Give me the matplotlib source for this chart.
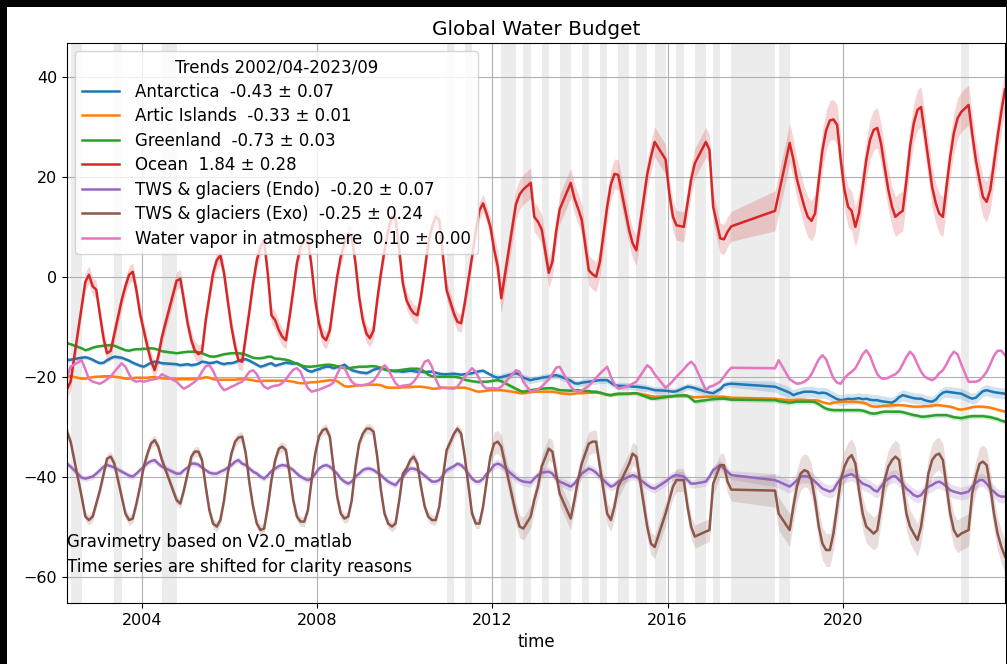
import numpy as np
import pandas as pd
import matplotlib
matplotlib.use("Agg")
import matplotlib.pyplot as plt
import matplotlib.dates as mdates
from matplotlib.patches import Rectangle
from matplotlib.ticker import MultipleLocator

# ---------------------------------------------------------------------------
# Monthly time axis (GRACE / GRACE-FO), months without a gravity solution
# ---------------------------------------------------------------------------
first_month = "2002-04"
last_month = "2023-09"
missing_months = [
    "2002-06", "2002-07", "2003-06", "2004-07", "2004-08", "2004-09",
    "2011-01", "2011-06", "2012-04", "2012-05", "2012-06", "2012-10",
    "2013-03", "2013-08", "2013-09", "2014-02", "2014-07", "2014-12",
    "2015-01", "2015-05", "2015-06", "2015-10", "2015-11", "2016-04",
    "2016-09", "2016-10", "2017-02", "2017-07", "2017-08", "2017-09",
    "2017-10", "2017-11", "2017-12", "2018-01", "2018-02", "2018-03",
    "2018-04", "2018-05", "2018-08", "2018-09", "2022-10",
]

# ---------------------------------------------------------------------------
# Mass anomalies (mm of global sea level equivalent, offsets applied)
# one row per year, only months with a solution
# ---------------------------------------------------------------------------
antarctica = [
    -16.7, -16.6, -16.2, -16.1, -16.3, -16.6, -17.0,                      # 2002
    -17.3, -17.2, -16.7, -16.3, -16.0, -16.2, -16.5, -16.8, -17.2, -17.5, -17.8,  # 2003
    -18.0, -17.6, -17.2, -17.0, -17.1, -17.3, -17.5, -17.7, -17.6,        # 2004
    -17.5, -17.7, -17.6, -17.4, -17.0, -17.1, -17.3, -17.2, -17.0, -17.3, -17.5, -17.3,  # 2005
    -17.3, -17.1, -16.8, -16.6, -16.5, -16.8, -17.2, -17.6, -18.0, -17.8, -17.5, -17.3,  # 2006
    -17.8, -17.6, -17.4, -17.2, -17.3, -17.4, -17.3, -17.7, -18.3, -18.8, -19.0, -18.7,  # 2007
    -18.5, -18.2, -18.0, -18.0, -18.3, -18.1, -17.9, -17.6, -18.2, -18.7, -18.9, -19.1,  # 2008
    -19.2, -19.3, -19.0, -18.6, -18.4, -18.3, -18.5, -18.7, -18.8, -18.9, -18.9, -19.0,  # 2009
    -18.9, -18.8, -18.9, -19.0, -19.0, -19.1, -19.0, -19.0, -19.2, -19.4, -19.5, -19.5,  # 2010
    -19.4, -19.5, -19.6, -19.5, -19.3, -19.1, -18.9, -18.8, -19.2, -19.6,  # 2011
    -20.0, -20.2, -20.1, -19.3, -19.6, -20.2, -20.7, -20.5,                # 2012
    -20.4, -20.2, -20.0, -19.8, -19.7, -19.9, -20.8, -21.3, -21.4,         # 2013
    -21.2, -21.0, -20.9, -20.8, -20.7, -20.7, -21.2, -21.7, -21.8,         # 2014
    -21.9, -22.0, -22.0, -22.3, -22.5, -22.7, -22.8,                       # 2015
    -22.9, -23.0, -22.9, -22.3, -22.0, -22.1, -22.3, -23.0, -23.2,         # 2016
    -23.3, -22.5, -21.7, -21.5, -21.4,                                     # 2017
    -22.0, -22.3, -23.2, -23.7, -23.4,                                     # 2018
    -23.2, -23.0, -23.0, -23.0, -23.1, -23.3, -23.2, -23.3, -23.7, -24.1, -24.5, -24.7,  # 2019
    -24.6, -24.4, -24.5, -24.4, -24.3, -24.5, -24.4, -24.6, -24.7, -24.7, -24.9, -25.0,  # 2020
    -25.1, -25.2, -24.8, -24.1, -23.7, -23.9, -24.1, -24.3, -24.4, -24.4, -24.7, -24.9,  # 2021
    -25.0, -24.6, -23.8, -23.2, -23.0, -23.1, -23.2, -23.3, -23.4, -24.1, -24.4,  # 2022
    -24.2, -23.5, -22.9, -22.7, -22.9, -23.1, -23.2, -23.3, -23.4,         # 2023
]

artic_islands = [
    -19.8, -19.9, -20.4, -20.4, -20.2, -20.1, -20.0,                      # 2002
    -20.0, -19.9, -19.9, -19.9, -20.0, -20.2, -20.4, -20.4, -20.3, -20.2, -20.2,  # 2003
    -20.2, -20.2, -20.1, -20.1, -20.2, -20.3, -20.5, -20.5, -20.5,        # 2004
    -20.5, -20.5, -20.4, -20.4, -20.3, -20.1, -20.2, -20.5, -20.6, -20.6, -20.6, -20.6,  # 2005
    -20.6, -20.6, -20.5, -20.5, -20.5, -20.6, -20.7, -20.9, -20.9, -20.8, -20.8, -20.8,  # 2006
    -20.8, -20.8, -20.8, -20.8, -20.9, -21.0, -21.2, -21.3, -21.3, -21.2, -21.1, -21.1,  # 2007
    -21.0, -20.9, -20.8, -20.7, -20.7, -20.9, -21.4, -21.9, -22.0, -21.9, -21.8, -21.7,  # 2008
    -21.7, -21.6, -21.6, -21.6, -21.6, -21.7, -22.0, -22.2, -22.2, -22.2, -22.2, -22.1,  # 2009
    -22.1, -22.1, -22.0, -22.0, -22.0, -22.1, -22.2, -22.4, -22.4, -22.3, -22.2, -22.2,  # 2010
    -22.2, -22.2, -22.2, -22.2, -22.6, -22.9, -23.0, -22.9, -22.8, -22.7,  # 2011
    -22.7, -22.7, -22.7, -23.1, -23.3, -23.3, -23.1, -23.0,                # 2012
    -23.0, -23.0, -23.0, -23.0, -23.1, -23.3, -23.5, -23.4, -23.3,         # 2013
    -23.3, -23.2, -23.2, -23.2, -23.2, -23.6, -23.7, -23.6, -23.5,         # 2014
    -23.4, -23.4, -23.3, -23.7, -23.9, -24.0, -23.9,                       # 2015
    -23.9, -23.9, -23.9, -23.9, -23.9, -24.0, -24.1, -24.0, -24.0,         # 2016
    -24.0, -24.0, -24.0, -24.1, -24.2,                                     # 2017
    -24.4, -24.5, -24.7, -24.7, -24.6,                                     # 2018
    -24.6, -24.6, -24.7, -24.7, -24.7, -24.8, -25.1, -25.3, -25.4, -25.2, -25.1, -25.0,  # 2019
    -25.0, -25.0, -25.0, -25.0, -25.1, -25.2, -25.4, -25.8, -26.0, -26.0, -25.9, -25.8,  # 2020
    -25.8, -25.7, -25.7, -25.7, -25.7, -25.8, -25.9, -26.0, -26.0, -26.0, -25.9, -25.9,  # 2021
    -25.8, -25.7, -25.7, -25.8, -25.9, -26.0, -26.2, -26.5, -26.6, -26.3, -26.1,  # 2022
    -26.0, -26.0, -26.0, -26.1, -26.2, -26.4, -26.6, -26.8, -27.0,         # 2023
]

greenland = [
    -13.3, -13.5, -14.3, -14.7, -14.5, -14.2, -14.0,                      # 2002
    -13.9, -13.8, -13.7, -13.7, -13.8, -14.4, -14.7, -14.8, -14.6, -14.5, -14.5,  # 2003
    -14.4, -14.4, -14.3, -14.4, -14.6, -14.9, -15.3, -15.2, -15.1,        # 2004
    -15.0, -15.0, -15.0, -15.1, -15.3, -15.6, -15.9, -16.0, -15.9, -15.7, -15.5, -15.4,  # 2005
    -15.3, -15.3, -15.3, -15.4, -15.6, -15.9, -16.2, -16.3, -16.3, -16.2, -16.0, -16.0,  # 2006
    -16.4, -16.4, -16.5, -16.6, -16.8, -17.1, -17.4, -17.7, -17.9, -18.0, -18.0, -17.9,  # 2007
    -17.8, -17.7, -17.6, -17.6, -17.7, -17.9, -18.1, -18.3, -18.3, -18.2, -18.1, -18.0,  # 2008
    -18.0, -18.0, -17.9, -17.9, -18.0, -18.2, -18.5, -18.7, -18.8, -18.8, -18.7, -18.6,  # 2009
    -18.5, -18.4, -18.4, -18.4, -18.5, -19.0, -19.6, -19.9, -20.0, -20.0, -20.0, -20.0,  # 2010
    -20.0, -20.1, -20.3, -20.6, -20.9, -21.0, -21.1, -21.0, -21.0, -20.9,  # 2011
    -20.8, -20.7, -20.9, -22.4, -22.8, -23.0, -22.7, -22.6,                # 2012
    -22.5, -22.4, -22.3, -22.3, -22.5, -22.7, -22.8, -22.7, -22.7,         # 2013
    -22.8, -22.9, -23.0, -23.0, -23.2, -23.6, -23.7, -23.5, -23.4,         # 2014
    -23.4, -23.3, -23.3, -24.1, -24.4, -24.4, -24.1,                       # 2015
    -24.0, -23.9, -23.8, -23.7, -23.8, -24.4, -25.0, -24.7, -24.6,         # 2016
    -24.5, -24.4, -24.4, -24.5, -24.6,                                     # 2017
    -24.7, -24.9, -25.2, -25.1, -25.0,                                     # 2018
    -25.0, -25.0, -25.0, -25.0, -25.1, -25.5, -26.0, -26.4, -26.6, -26.7, -26.7, -26.7,  # 2019
    -26.7, -26.7, -26.7, -26.7, -26.7, -26.8, -27.0, -27.3, -27.4, -27.3, -27.1, -27.0,  # 2020
    -27.0, -27.0, -27.0, -27.0, -27.1, -27.3, -27.5, -27.7, -27.8, -28.0, -28.0, -27.9,  # 2021
    -27.8, -27.7, -27.7, -27.7, -27.7, -27.9, -28.1, -28.2, -28.3, -28.0, -27.9,  # 2022
    -27.9, -27.9, -27.9, -28.0, -28.1, -28.3, -28.5, -28.8, -29.0,         # 2023
]

ocean = [
    -22.5, -21.0, -6.0, -1.0, 0.4, -1.9, -2.6,                            # 2002
    -7.7, -12.5, -15.3, -14.8, -11.4, -4.7, -1.9, 0.4, 1.0, -2.7, -7.4,   # 2003
    -10.7, -14.0, -16.7, -18.7, -16.0, -12.0, -0.8, -0.4, -4.7,           # 2004
    -9.3, -12.7, -14.7, -15.5, -15.0, -8.7, -4.0, 0.7, 3.3, 4.3, 0.7, -4.7,    # 2005
    -10.0, -14.0, -16.7, -17.0, -12.0, -6.7, -1.3, 3.3, 6.0, 7.3, 0.5, -7.7,   # 2006
    -8.7, -10.7, -12.0, -12.7, -8.0, -2.7, 2.7, 6.0, 7.3, 7.6, 2.0, -4.7,      # 2007
    -9.3, -12.0, -12.7, -10.7, -5.3, 0.0, 4.0, 6.7, 8.7, 8.0, 2.7, -4.0,       # 2008
    -8.7, -11.4, -12.3, -10.7, -4.7, 0.7, 5.3, 9.3, 12.0, 11.7, 5.3, -1.3,     # 2009
    -4.7, -6.3, -7.3, -7.7, -4.0, 1.3, 6.7, 10.0, 12.0, 11.4, 4.0, -2.7,       # 2010
    -7.4, -9.0, -9.3, -5.3, 4.0, 9.3, 13.3, 14.7, 12.5, 10.0,                  # 2011
    5.5, 2.0, -4.3, 14.5, 16.5, 17.5, 18.8, 12.0,                              # 2012
    11.0, 9.5, 0.8, 3.0, 9.0, 13.5, 18.8, 15.7, 13.7,                          # 2013
    11.4, 1.3, 0.5, 0.0, 3.0, 14.0, 18.5, 20.6, 20.4,                          # 2014
    9.3, 6.7, 5.3, 20.5, 24.0, 27.0, 23.5,                                     # 2015
    16.7, 12.0, 10.3, 10.0, 14.7, 19.4, 22.7, 27.0, 25.4,                      # 2016
    14.0, 7.7, 7.5, 9.0, 10.1,                                                 # 2017
    13.2, 16.5, 26.8, 23.5, 19.5,                                              # 2018
    16.7, 14.0, 12.0, 11.2, 12.7, 19.3, 25.3, 29.3, 31.3, 31.5, 30.4, 23.4,    # 2019
    17.4, 14.0, 13.2, 10.0, 12.7, 18.0, 23.4, 27.4, 29.4, 29.8, 26.7, 22.0,    # 2020
    17.4, 14.0, 12.0, 12.7, 13.2, 19.3, 26.0, 30.7, 33.4, 34.0, 28.7, 23.4,    # 2021
    18.0, 14.7, 12.7, 12.0, 18.0, 24.0, 28.7, 31.7, 33.0, 34.4, 28.7,          # 2022
    23.4, 19.3, 16.0, 15.0, 17.4, 22.7, 28.0, 33.0, 37.5,                      # 2023
]

tws_endo = [
    -37.4, -38.0, -40.2, -40.4, -40.2, -40.0, -39.4,                      # 2002
    -38.7, -38.0, -37.7, -37.9, -38.2, -39.0, -39.4, -39.8, -40.0, -39.4, -38.7,  # 2003
    -38.0, -37.3, -36.9, -36.7, -37.4, -38.0, -39.4, -39.4, -38.7,        # 2004
    -38.2, -37.4, -37.4, -37.6, -38.2, -38.7, -39.2, -39.4, -39.4, -39.0, -38.7, -38.2,  # 2005
    -37.7, -37.0, -36.7, -37.4, -37.7, -38.4, -39.0, -39.4, -40.0, -40.4, -39.7, -38.9,  # 2006
    -38.4, -37.9, -37.7, -37.8, -38.2, -38.7, -39.4, -40.0, -40.4, -40.7, -40.4, -39.4,  # 2007
    -38.4, -37.9, -37.7, -38.0, -38.7, -39.4, -40.4, -41.0, -41.4, -41.0, -40.0, -39.4,  # 2008
    -38.7, -38.4, -38.4, -38.7, -39.2, -39.7, -40.4, -41.0, -41.4, -41.7, -40.7, -40.0,  # 2009
    -39.0, -38.4, -38.4, -38.7, -39.2, -39.8, -40.4, -41.0, -41.0, -40.7, -39.7, -38.7,  # 2010
    -37.9, -37.4, -37.7, -38.4, -40.4, -41.0, -41.0, -40.4, -39.4, -38.7,  # 2011
    -37.7, -37.4, -37.7, -40.2, -40.7, -41.0, -41.2, -40.4,                # 2012
    -39.7, -39.2, -39.0, -39.4, -40.4, -41.0, -42.0, -41.4, -40.4,         # 2013
    -39.4, -38.4, -38.7, -39.2, -40.0, -41.4, -42.0, -41.7, -41.0,         # 2014
    -40.0, -39.7, -40.0, -41.7, -42.2, -42.4, -41.0,                       # 2015
    -40.4, -39.9, -39.7, -40.0, -40.7, -41.4, -41.4, -41.0, -40.0,         # 2016
    -38.7, -37.7, -38.4, -39.0, -39.7,                                     # 2017
    -40.7, -41.0, -42.0, -41.4, -40.7,                                     # 2018
    -40.0, -39.9, -40.0, -40.4, -41.0, -41.7, -42.4, -42.7, -43.0, -42.7, -41.4, -40.4,  # 2019
    -40.0, -39.7, -39.5, -40.0, -40.7, -41.4, -41.7, -42.0, -42.7, -43.0, -42.0, -41.0,  # 2020
    -40.4, -40.0, -39.9, -40.7, -41.4, -42.4, -43.0, -43.7, -44.0, -43.7, -42.7, -42.0,  # 2021
    -41.7, -41.2, -41.0, -41.4, -42.0, -42.7, -43.0, -43.2, -43.4, -43.0, -42.0,  # 2022
    -41.2, -40.7, -40.7, -41.4, -42.4, -43.0, -43.7, -44.0, -44.0,         # 2023
]

tws_exo = [
    -31.0, -33.0, -44.0, -48.0, -48.7, -48.0, -45.4,                      # 2002
    -42.7, -39.4, -36.4, -36.0, -37.4, -44.0, -47.4, -48.7, -48.4, -45.4, -42.0,  # 2003
    -38.0, -35.4, -33.4, -32.7, -34.0, -36.7, -44.7, -45.4, -42.7,        # 2004
    -39.4, -36.0, -35.0, -35.0, -36.7, -42.0, -46.7, -49.4, -50.0, -48.7, -44.7, -39.4,  # 2005
    -35.4, -33.0, -32.2, -32.0, -35.4, -41.4, -46.0, -49.4, -50.7, -50.4, -46.0, -40.7,  # 2006
    -36.7, -34.4, -34.0, -34.7, -39.4, -44.7, -48.0, -49.0, -49.0, -46.7, -40.7, -35.4,  # 2007
    -32.0, -30.7, -30.4, -32.0, -38.0, -44.0, -47.4, -48.4, -48.0, -44.7, -38.0, -33.4,  # 2008
    -31.4, -30.4, -30.4, -31.0, -36.0, -42.7, -47.4, -49.4, -50.0, -49.4, -44.7, -39.4,  # 2009
    -38.4, -36.7, -36.0, -37.4, -42.0, -46.0, -48.0, -48.7, -48.7, -46.0, -40.0, -34.7,  # 2010
    -31.4, -30.4, -31.4, -36.0, -47.4, -49.4, -49.4, -46.0, -40.7, -36.0,  # 2011
    -33.4, -33.0, -34.0, -47.4, -50.0, -50.4, -48.0, -44.7,                # 2012
    -42.0, -38.0, -34.4, -35.0, -39.4, -43.4, -48.4, -44.7, -40.7,         # 2013
    -37.4, -33.4, -33.0, -33.0, -38.0, -47.4, -48.7, -46.0, -42.0,         # 2014
    -37.4, -35.4, -36.0, -50.0, -53.4, -54.1, -47.4,                       # 2015
    -44.7, -42.0, -40.7, -40.7, -46.0, -50.0, -52.0, -51.0, -50.7,         # 2016
    -41.4, -37.7, -37.7, -41.0, -42.6,                                     # 2017
    -42.8, -47.4, -50.7, -46.0, -42.0,                                     # 2018
    -39.4, -38.7, -39.0, -40.7, -44.7, -50.0, -53.4, -54.7, -54.7, -51.4, -46.0, -40.7,  # 2019
    -38.0, -36.4, -35.7, -37.4, -42.7, -47.4, -50.0, -50.7, -51.4, -50.7, -46.0, -40.7,  # 2020
    -38.0, -36.7, -36.0, -36.7, -42.0, -47.4, -50.0, -51.4, -52.7, -50.0, -44.7, -39.4,  # 2021
    -36.7, -35.7, -35.4, -36.7, -42.0, -47.4, -50.7, -52.0, -51.4, -50.7, -43.4,  # 2022
    -40.0, -37.4, -37.0, -37.7, -42.0, -47.4, -51.4, -54.0, -56.0,         # 2023
]

water_vapor = [
    -20.0, -18.0, -16.7, -18.5, -20.5, -21.0, -21.2,                      # 2002
    -21.4, -21.0, -20.5, -20.0, -19.0, -17.3, -18.0, -19.5, -20.7, -21.0, -20.8,  # 2003
    -21.0, -20.8, -20.6, -20.5, -20.3, -19.5, -21.0, -21.8, -22.4,        # 2004
    -22.0, -21.5, -21.0, -20.3, -19.0, -17.9, -17.7, -18.8, -20.5, -21.8, -22.7, -22.4,  # 2005
    -22.0, -21.7, -21.3, -21.0, -20.0, -19.0, -18.7, -19.5, -21.0, -22.0, -22.4, -22.0,  # 2006
    -21.8, -21.7, -21.3, -20.5, -19.5, -18.6, -18.3, -19.0, -20.8, -22.3, -23.0, -22.8,  # 2007
    -22.6, -22.3, -22.0, -21.7, -21.2, -19.5, -18.0, -18.2, -19.8, -21.0, -21.6, -21.7,  # 2008
    -21.7, -21.6, -21.3, -20.8, -19.8, -18.6, -17.7, -18.5, -20.0, -21.3, -22.0, -21.8,  # 2009
    -21.7, -21.6, -21.0, -20.0, -18.5, -17.0, -16.7, -18.0, -20.5, -22.0, -22.2, -22.3,  # 2010
    -22.4, -22.0, -21.0, -20.0, -18.3, -19.0, -20.5, -21.8, -22.4, -22.3,  # 2011
    -22.3, -22.4, -22.0, -18.7, -19.0, -21.0, -23.0, -22.8,                # 2012
    -22.5, -22.0, -20.5, -19.5, -18.2, -18.0, -22.0, -22.7, -23.0,         # 2013
    -22.8, -21.8, -21.0, -20.2, -19.4, -18.0, -20.0, -21.5, -22.4,         # 2014
    -21.8, -21.4, -21.0, -17.7, -18.3, -19.5, -22.2,                       # 2015
    -21.6, -20.8, -20.0, -18.5, -17.6, -17.0, -17.8, -22.7, -22.0,         # 2016
    -21.8, -21.0, -20.0, -19.0, -18.2,                                     # 2017
    -18.3, -16.7, -20.5, -21.0, -21.4,                                     # 2018
    -21.3, -21.0, -20.5, -19.5, -18.0, -16.5, -15.7, -16.5, -18.5, -20.3, -21.2, -21.4,  # 2019
    -20.3, -19.5, -19.0, -18.3, -17.0, -15.5, -14.7, -15.8, -17.8, -19.5, -20.3, -20.4,  # 2020
    -20.2, -19.8, -19.5, -18.8, -17.5, -16.0, -15.0, -15.8, -17.5, -19.0, -20.0, -20.4,  # 2021
    -20.7, -20.2, -19.3, -18.7, -17.5, -16.0, -15.0, -15.5, -17.5, -21.0, -21.0,  # 2022
    -21.0, -20.7, -20.0, -19.0, -17.5, -15.8, -14.8, -14.8, -15.7,         # 2023
]

# 1-sigma half width of the shaded envelopes, per mission period
period_starts = [2002, 2012, 2018]
unc_antarctica = [0.4, 0.7, 1.1]
unc_artic = [0.2, 0.25, 0.3]
unc_greenland = [0.3, 0.4, 0.5]
unc_ocean = [1.8, 3.0, 4.0]
unc_endo = [0.6, 0.9, 1.3]
unc_exo = [1.0, 2.3, 3.3]
unc_vapor = [0.15, 0.2, 0.25]

# Trends over the full record (mm/yr)
names = ["Antarctica", "Artic Islands", "Greenland", "Ocean",
         "TWS & glaciers (Endo)", "TWS & glaciers (Exo)", "Water vapor in atmosphere"]
trends = [-0.43, -0.33, -0.73, 1.84, -0.20, -0.25, 0.10]
trend_errors = [0.07, 0.01, 0.03, 0.28, 0.07, 0.24, 0.00]

series = [antarctica, artic_islands, greenland, ocean, tws_endo, tws_exo, water_vapor]
uncertainties = [unc_antarctica, unc_artic, unc_greenland, unc_ocean,
                 unc_endo, unc_exo, unc_vapor]
colors = ["tab:blue", "tab:orange", "tab:green", "tab:red",
          "tab:purple", "tab:brown", "tab:pink"]

# ---------------------------------------------------------------------------
# Build the time axis (mid-month dates of available solutions)
# ---------------------------------------------------------------------------
all_months = pd.period_range(first_month, last_month, freq="M")
kept = [m for m in all_months if str(m) not in set(missing_months)]
dates = pd.DatetimeIndex([m.to_timestamp() + pd.Timedelta(days=14) for m in kept])
years = np.array([d.year for d in dates])
period_idx = np.searchsorted(period_starts, years, side="right") - 1

# ---------------------------------------------------------------------------
# Figure
# ---------------------------------------------------------------------------
W, H = 1007, 664
fig = plt.figure(figsize=(W / 100, H / 100), dpi=100)
fig.patch.set_facecolor("black")
fig.add_artist(Rectangle((7 / W, 0), (1006 - 7) / W, (H - 7) / H,
                         transform=fig.transFigure, facecolor="white",
                         edgecolor="none", zorder=-10))

ax = fig.add_axes([67 / W, 61 / H, 938 / W, 560 / H])

# shade the periods without gravity solutions
for d0, d1 in zip(dates[:-1], dates[1:]):
    if (d1 - d0).days > 45:
        ax.axvspan(d0, d1, color="0.5", alpha=0.15, lw=0)

for name, vals, unc, tr, err, col in zip(names, series, uncertainties,
                                         trends, trend_errors, colors):
    v = np.asarray(vals, dtype=float)
    s = np.asarray(unc)[period_idx]
    ax.fill_between(dates, v - s, v + s, color=col, alpha=0.2, lw=0)
    ax.plot(dates, v, color=col, lw=1.8, label=f"{name}  {tr:.2f} \u00b1 {err:.2f}")

ax.set_xlim(dates[0], dates[-1])
ax.set_ylim(-65.3, 46.8)
ax.yaxis.set_major_locator(MultipleLocator(20))
ax.xaxis.set_major_locator(mdates.YearLocator(4))
ax.xaxis.set_major_formatter(mdates.DateFormatter("%Y"))
ax.tick_params(labelsize=11.5)
ax.grid(True)

ax.set_title("Global Water Budget", fontsize=14.4)
ax.set_xlabel("time", fontsize=12)

ax.text(dates[0], -54, "Gravimetry based on V2.0_matlab", fontsize=12)
ax.text(dates[0], -59, "Time series are shifted for clarity reasons", fontsize=12)

ax.legend(loc="upper left", title="Trends 2002/04-2023/09", fontsize=12,
          title_fontsize=12, labelspacing=0.39, handlelength=2.2,
          handletextpad=1.0)

fig.savefig("out.png", dpi=100, facecolor="black")
